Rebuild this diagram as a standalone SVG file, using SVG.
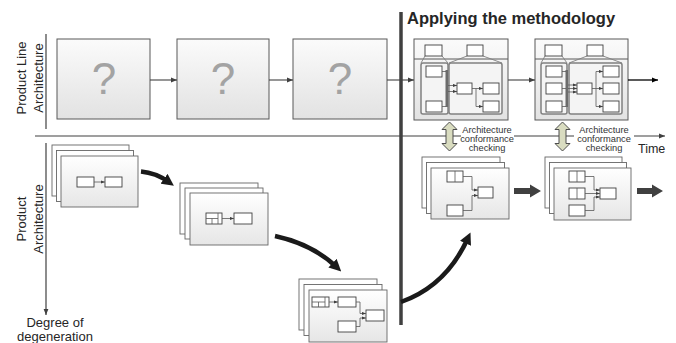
<svg xmlns="http://www.w3.org/2000/svg" width="676" height="343" viewBox="0 0 676 343">
<defs>
<linearGradient id="gbox" x1="0" y1="0" x2="0" y2="1"><stop offset="0" stop-color="#fbfbfb"/><stop offset="1" stop-color="#e2e2e2"/></linearGradient>
<linearGradient id="gsheet" x1="0" y1="0" x2="0" y2="1"><stop offset="0" stop-color="#ffffff"/><stop offset="1" stop-color="#e6e6e6"/></linearGradient>
<marker id="ah" viewBox="0 0 10 10" refX="10" refY="5" markerWidth="6" markerHeight="6" markerUnits="userSpaceOnUse" orient="auto"><path d="M0,1 L10,5 L0,9 z" fill="#404040"/></marker>
<marker id="ahk" viewBox="0 0 10 10" refX="10" refY="5" markerWidth="6" markerHeight="6" markerUnits="userSpaceOnUse" orient="auto"><path d="M0,1 L10,5 L0,9 z" fill="#000"/></marker>
<marker id="ahs" viewBox="0 0 10 10" refX="10" refY="5" markerWidth="4" markerHeight="4" markerUnits="userSpaceOnUse" orient="auto"><path d="M0,1 L10,5 L0,9 z" fill="#404040"/></marker>
<marker id="big" viewBox="0 0 10 10" refX="4" refY="5" markerWidth="12" markerHeight="12" markerUnits="userSpaceOnUse" orient="auto"><path d="M0,0 L10,5 L0,10 z" fill="#1a1a1a"/></marker>
</defs>
<style>
text{font-family:"Liberation Sans",Arial,sans-serif;fill:#262626}
.lbl{font-size:13px}
.q{font-size:44px;fill:#a3a3a3;text-anchor:middle}
.cc{font-size:9.3px;text-anchor:middle;fill:#333}
.qbox{fill:url(#gbox);stroke:#595959;stroke-width:1}
.outer{fill:url(#gbox);stroke:#595959;stroke-width:1}
.panel{fill:#f4f4f4;stroke:#808080;stroke-width:1.5}
.sb{fill:#fff;stroke:#404040;stroke-width:0.9}
.thin{fill:none;stroke:#595959;stroke-width:0.8}
.trap{fill:none;stroke:#808080;stroke-width:0.9}
.sheet{fill:#fff;stroke:#666;stroke-width:0.9}
.front{fill:url(#gsheet);stroke:#666;stroke-width:0.9}
.conn{fill:none;stroke:#404040;stroke-width:1.1}
.curve{fill:none;stroke:#1a1a1a;stroke-width:4.5}
.dbl{fill:#d9dcc0;stroke:#4d4d4d;stroke-width:1}
.blk{fill:#404040}
</style>

<!-- axes -->
<g id="axes">
<line x1="46" y1="34" x2="46" y2="129" stroke="#404040" stroke-width="1.2"/>
<line x1="35" y1="136" x2="665" y2="136" stroke="#404040" stroke-width="1.2" marker-end="url(#ah)"/>
<line x1="46" y1="143" x2="46" y2="315" stroke="#404040" stroke-width="1.2" marker-end="url(#ah)"/>
<text class="lbl" transform="translate(26,78) rotate(-90)" text-anchor="middle">Product Line</text>
<text class="lbl" transform="translate(43,78) rotate(-90)" text-anchor="middle">Architecture</text>
<text class="lbl" transform="translate(26,219) rotate(-90)" text-anchor="middle">Product</text>
<text class="lbl" transform="translate(43,219) rotate(-90)" text-anchor="middle">Architecture</text>
<text class="lbl" x="55" y="327" text-anchor="middle">Degree of</text>
<text class="lbl" x="55" y="341" text-anchor="middle">degeneration</text>
<text x="638" y="153" font-size="12.5">Time</text>
</g>

<!-- question boxes -->
<g id="q1"><rect class="qbox" x="57" y="39" width="93" height="80"/><text class="q" x="104" y="94">?</text></g>
<g id="q2"><rect class="qbox" x="177" y="39" width="92" height="80"/><text class="q" x="223" y="94">?</text></g>
<g id="q3"><rect class="qbox" x="293" y="39" width="94" height="80"/><text class="q" x="340" y="94">?</text></g>

<!-- methodology box A -->
<g id="mA">
<rect class="outer" x="414" y="39" width="94" height="81"/>
<line x1="414" y1="59" x2="508" y2="59" stroke="#595959" stroke-width="1"/>
<path class="trap" d="M425,56 L421,63 M442,56 L448,63 M467,56 L449,63 M483,56 L502,63"/>
<rect class="sb" x="425" y="45" width="17" height="11"/>
<rect class="sb" x="467" y="45" width="16" height="11"/>
<rect class="panel" x="421" y="63" width="27" height="51" rx="2"/>
<rect class="panel" x="449" y="63" width="53" height="51" rx="2"/>
<rect class="sb" x="426" y="66" width="16" height="11"/>
<rect class="sb" x="426" y="101" width="16" height="11"/>
<rect x="445.5" y="70" width="2.5" height="37" fill="#6b6b6b"/>
<path class="thin" d="M442,71.5 H446 M442,106.5 H446"/>
<line class="thin" x1="448" y1="85.5" x2="457" y2="85.5" marker-end="url(#ahs)"/>
<line class="thin" x1="448" y1="91.5" x2="457" y2="91.5" marker-end="url(#ahs)"/>
<rect class="sb" x="457" y="83" width="15" height="11"/>
<rect class="sb" x="483" y="83" width="16" height="11"/>
<rect class="sb" x="483" y="101" width="16" height="11"/>
<line class="thin" x1="472" y1="88.5" x2="483" y2="88.5" marker-end="url(#ahs)"/>
<path class="thin" d="M476,88.5 V106.5 H483" marker-end="url(#ahs)"/>
</g>

<!-- methodology box B -->
<g id="mB">
<rect class="outer" x="535" y="39" width="93" height="81"/>
<line x1="535" y1="59" x2="628" y2="59" stroke="#595959" stroke-width="1"/>
<path class="trap" d="M545,56 L541,63 M562,56 L567,63 M587,56 L569,63 M603,56 L622,63"/>
<rect class="sb" x="545" y="45" width="17" height="11"/>
<rect class="sb" x="587" y="45" width="16" height="11"/>
<rect class="panel" x="541" y="63" width="26" height="51" rx="2"/>
<rect class="panel" x="569" y="63" width="53" height="51" rx="2"/>
<rect class="sb" x="546" y="66" width="16" height="11"/>
<rect class="sb" x="546" y="83" width="16" height="11"/>
<rect class="sb" x="546" y="101" width="16" height="11"/>
<rect x="565.5" y="70" width="2.5" height="37" fill="#6b6b6b"/>
<path class="thin" d="M562,71.5 H566 M562,88.5 H566 M562,106.5 H566"/>
<line class="thin" x1="568" y1="85" x2="577" y2="85" marker-end="url(#ahs)"/>
<line class="thin" x1="568" y1="88.5" x2="577" y2="88.5" marker-end="url(#ahs)"/>
<line class="thin" x1="568" y1="92" x2="577" y2="92" marker-end="url(#ahs)"/>
<rect class="sb" x="577" y="83" width="15" height="11"/>
<rect class="sb" x="603" y="66" width="16" height="11"/>
<rect class="sb" x="603" y="83" width="16" height="11" stroke-width="1.4"/>
<rect class="sb" x="603" y="101" width="16" height="11"/>
<line class="thin" x1="592" y1="88.5" x2="603" y2="88.5" marker-end="url(#ahs)"/>
<path class="thin" d="M596,88.5 V71.5 H603" marker-end="url(#ahs)"/>
<path class="thin" d="M596,88.5 V106.5 H603" marker-end="url(#ahs)"/>
</g>

<!-- title and separator -->
<g id="divider">
<line x1="401" y1="12" x2="401" y2="325" stroke="#404040" stroke-width="3.5"/>
<text x="407" y="24" font-size="16.5" font-weight="bold" fill="#000">Applying the methodology</text>
</g>

<!-- stack 1 -->
<g id="s1">
<rect class="sheet" x="52" y="145" width="77" height="51"/>
<rect class="sheet" x="56.5" y="150.5" width="77" height="51"/>
<rect class="front" x="61" y="156" width="77" height="51"/>
<rect class="sb" x="77" y="177" width="17" height="10"/>
<rect class="sb" x="105" y="177" width="17" height="10"/>
<line class="thin" x1="94" y1="182" x2="105" y2="182" marker-end="url(#ahs)"/>
</g>

<!-- stack 2 -->
<g id="s2">
<rect class="sheet" x="180" y="183" width="78" height="51"/>
<rect class="sheet" x="185" y="188" width="78" height="51"/>
<rect class="front" x="190" y="193" width="78" height="52"/>
<rect class="sb" x="206" y="213" width="16" height="11"/>
<path class="thin" d="M218,213 V224 M206,218.5 H218 M212,218.5 V224" stroke="#404040"/>
<rect class="sb" x="234" y="213" width="18" height="11"/>
<line class="thin" x1="222" y1="218.5" x2="234" y2="218.5" marker-end="url(#ahs)"/>
</g>

<!-- stack 3 -->
<g id="s3">
<rect class="sheet" x="299" y="279" width="78" height="51"/>
<rect class="sheet" x="304" y="284.5" width="78" height="51"/>
<rect class="front" x="309" y="290" width="78" height="52"/>
<rect class="sb" x="312" y="297" width="17" height="10"/>
<path class="thin" d="M325,297 V307 M312,302 H325 M318.5,302 V307" stroke="#404040"/>
<rect class="sb" x="338" y="297" width="18" height="10"/>
<line class="thin" x1="329" y1="302" x2="338" y2="302" marker-end="url(#ahs)"/>
<rect class="sb" x="366" y="310" width="18" height="11"/>
<rect class="sb" x="338" y="321" width="18" height="11"/>
<path class="thin" d="M356,302 H360 V313.5 H366" marker-end="url(#ahs)"/>
<path class="thin" d="M356,326.5 H360 V318 H366" marker-end="url(#ahs)"/>
</g>

<!-- stack 4 -->
<g id="s4">
<rect class="sheet" x="422" y="157" width="78" height="51"/>
<rect class="sheet" x="426.5" y="162.5" width="78" height="51"/>
<rect class="front" x="431" y="168" width="78" height="51"/>
<rect class="sb" x="447" y="171" width="16" height="11"/>
<line class="thin" x1="455" y1="171" x2="455" y2="182" stroke="#404040"/>
<rect class="sb" x="447" y="205" width="16" height="11"/>
<rect class="sb" x="478" y="187" width="15" height="11"/>
<path class="thin" d="M463,176.5 H472 V190 H478" marker-end="url(#ahs)"/>
<path class="thin" d="M463,210.5 H472 V195.5 H478" marker-end="url(#ahs)"/>
</g>

<!-- stack 5 -->
<g id="s5">
<rect class="sheet" x="545" y="157" width="77" height="51"/>
<rect class="sheet" x="549.5" y="162.5" width="77" height="51"/>
<rect class="front" x="554" y="168" width="77" height="52"/>
<rect class="sb" x="569" y="171" width="16" height="11"/>
<line class="thin" x1="577" y1="171" x2="577" y2="182" stroke="#404040"/>
<rect class="sb" x="569" y="188" width="16" height="11"/>
<line class="thin" x1="577" y1="188" x2="577" y2="199" stroke="#404040"/>
<rect class="sb" x="569" y="205" width="16" height="11"/>
<rect class="sb" x="600" y="188" width="16" height="11"/>
<path class="thin" d="M585,176.5 H594 V190 H600" marker-end="url(#ahs)"/>
<line class="thin" x1="585" y1="193.5" x2="600" y2="193.5" marker-end="url(#ahs)"/>
<path class="thin" d="M585,210.5 H594 V197 H600" marker-end="url(#ahs)"/>
</g>

<!-- conformance checks -->
<g id="cc1">
<rect x="461" y="124" width="53" height="28" fill="#fff"/>
<polygon class="dbl" points="449.5,122 457,129.5 453,129.5 453,143.5 457,143.5 449.5,151 442,143.5 446,143.5 446,129.5 442,129.5"/>
<text class="cc" x="487" y="133">Architecture</text>
<text class="cc" x="487" y="142">conformance</text>
<text class="cc" x="487" y="150.5">checking</text>
</g>
<g id="cc2">
<rect x="574" y="124" width="60" height="28" fill="#fff"/>
<polygon class="dbl" points="562.5,122 570,129.5 566,129.5 566,143.5 570,143.5 562.5,151 555,143.5 559,143.5 559,129.5 555,129.5"/>
<text class="cc" x="604" y="133">Architecture</text>
<text class="cc" x="604" y="142">conformance</text>
<text class="cc" x="604" y="150.5">checking</text>
</g>

<!-- connectors -->
<g id="connectors">
<line class="conn" x1="150" y1="80" x2="177" y2="80" marker-end="url(#ah)"/>
<line class="conn" x1="269" y1="80" x2="293" y2="80" marker-end="url(#ah)"/>
<line class="conn" x1="387" y1="80" x2="414" y2="80" marker-end="url(#ah)"/>
<line class="conn" x1="508" y1="80" x2="535" y2="80" marker-end="url(#ah)"/>
<line x1="628" y1="80" x2="658" y2="80" stroke="#000" stroke-width="1.3" marker-end="url(#ahk)"/>
<path class="curve" d="M141,171.5 Q156,173 168,181.5" marker-end="url(#big)"/>
<path class="curve" d="M275,236 Q312,244 336,266.5" marker-end="url(#big)"/>
<path class="curve" d="M401,302 Q446,286 467.5,239" marker-end="url(#big)"/>
<polygon class="blk" points="514,188 530,188 530,184.5 541,191 530,197.5 530,194 514,194"/>
<polygon class="blk" points="637,188 652,188 652,184.5 663,191 652,197.5 652,194 637,194"/>
</g>
</svg>
